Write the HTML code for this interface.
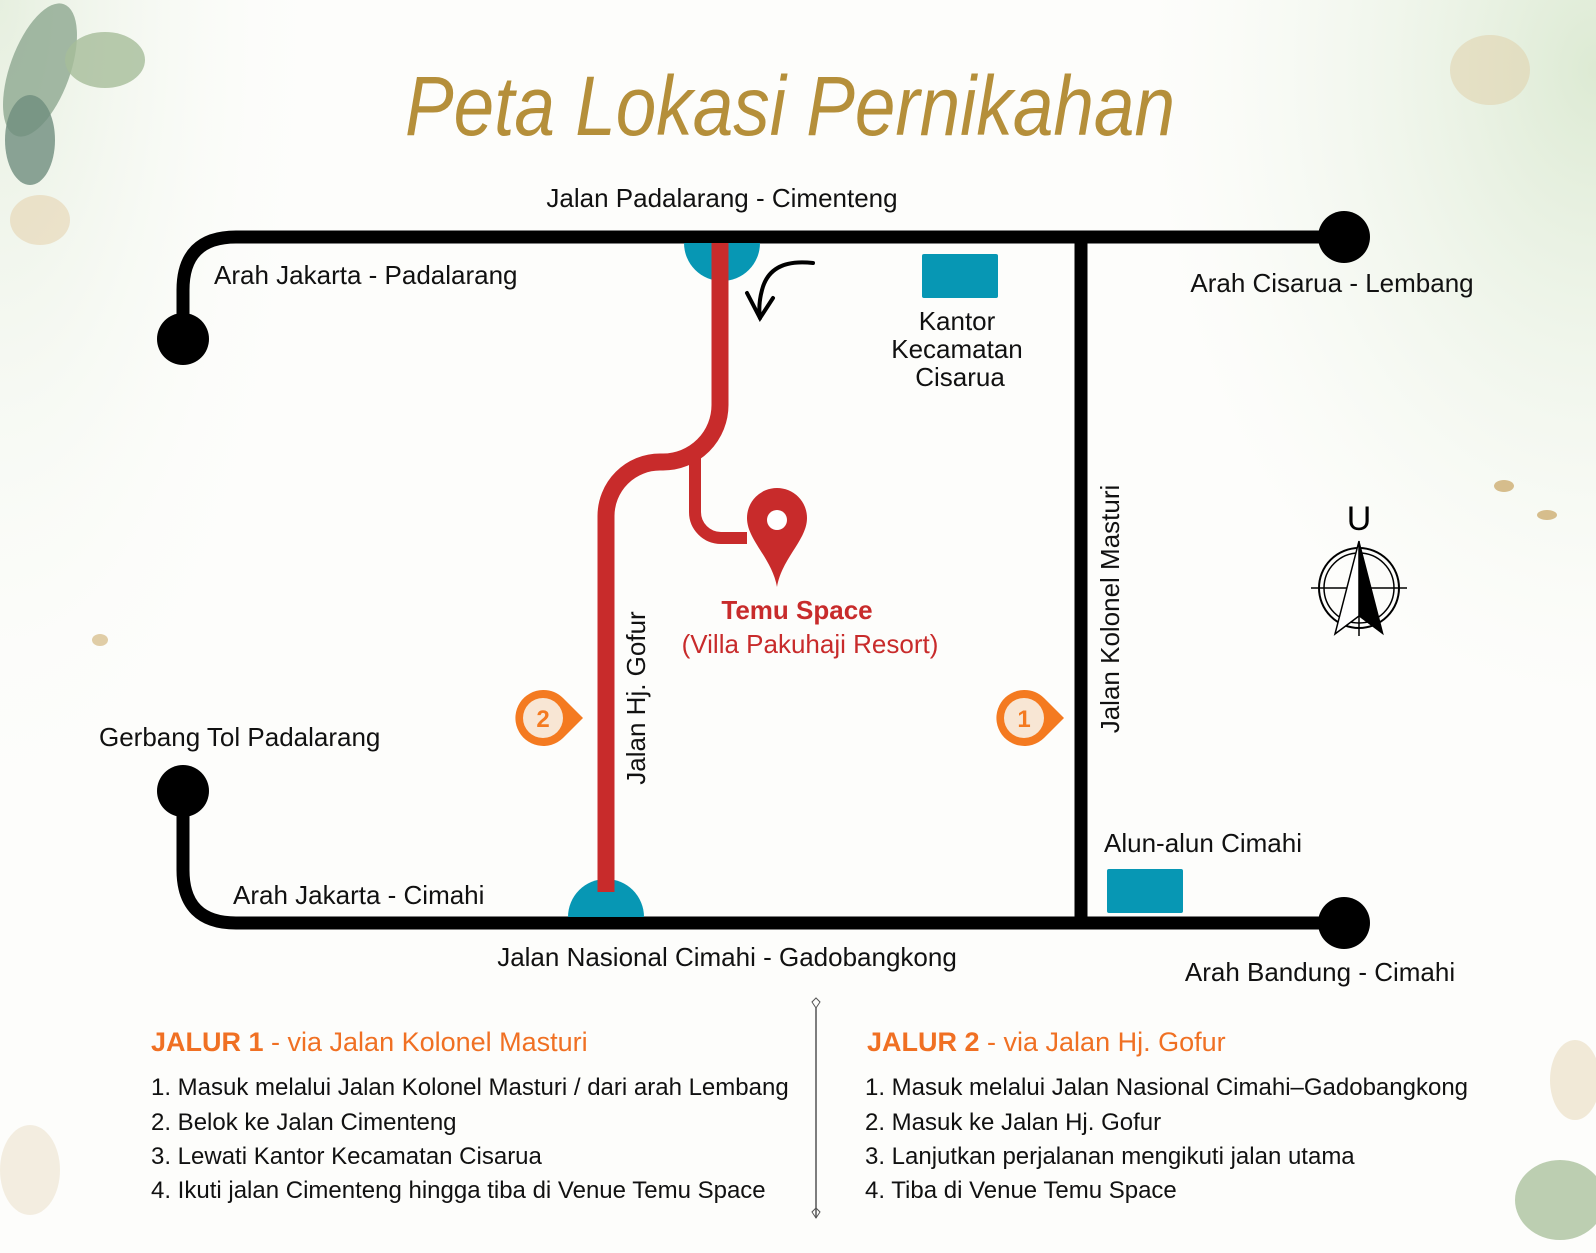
<!DOCTYPE html>
<html><head><meta charset="utf-8"><style>
html,body{margin:0;padding:0;background:#fff;}
svg{display:block;}
text{font-family:"Liberation Sans",sans-serif;}
</style></head><body>
<svg width="1596" height="1253" viewBox="0 0 1596 1253" xmlns="http://www.w3.org/2000/svg">
<defs>
<radialGradient id="gtr" cx="1" cy="0.1" r="0.9"><stop offset="0" stop-color="#d9e8cf" stop-opacity="0.9"/><stop offset="1" stop-color="#eef5ea" stop-opacity="0"/></radialGradient>
<radialGradient id="gtl" cx="0" cy="0" r="1"><stop offset="0" stop-color="#e6efdf"/><stop offset="1" stop-color="#fff" stop-opacity="0"/></radialGradient>
</defs>
<rect width="1596" height="1253" fill="#fdfdfb"/>
<rect x="1100" y="0" width="496" height="700" fill="url(#gtr)"/>
<rect x="0" y="0" width="350" height="900" fill="url(#gtl)"/>
<ellipse cx="40" cy="70" rx="30" ry="70" fill="#8da890" opacity="0.8" transform="rotate(20 40 70)"/>
<ellipse cx="105" cy="60" rx="40" ry="28" fill="#a6bd9a" opacity="0.8"/>
<ellipse cx="30" cy="140" rx="25" ry="45" fill="#6f8d7e" opacity="0.8"/>
<ellipse cx="40" cy="220" rx="30" ry="25" fill="#e6d3b0" opacity="0.6"/>
<ellipse cx="1490" cy="70" rx="40" ry="35" fill="#e0cda6" opacity="0.5"/>
<ellipse cx="1560" cy="1200" rx="45" ry="40" fill="#9fb992" opacity="0.7"/>
<ellipse cx="1575" cy="1080" rx="25" ry="40" fill="#e6d6b4" opacity="0.5"/>
<ellipse cx="30" cy="1170" rx="30" ry="45" fill="#ece3cf" opacity="0.6"/>
<ellipse cx="1504" cy="486" rx="10" ry="6" fill="#d6bd8c"/>
<ellipse cx="1547" cy="515" rx="10" ry="5" fill="#d6bd8c"/>
<ellipse cx="100" cy="640" rx="8" ry="6" fill="#e0cda6"/>
<text x="790" y="135" text-anchor="middle" font-family="Liberation Serif,serif" font-style="italic" font-size="84" fill="#b58f3a" textLength="770" lengthAdjust="spacingAndGlyphs">Peta Lokasi Pernikahan</text>
<g fill="none" stroke="#000" stroke-width="13">
<path d="M183 339 V290 Q183 237 236 237 H1344"/>
<path d="M183 791 V870 Q183 923 236 923 H1344"/>
<path d="M1081 237 V923"/>
</g>
<circle cx="183" cy="339" r="26"/><circle cx="1344" cy="237" r="26"/>
<circle cx="183" cy="791" r="26"/><circle cx="1344" cy="923" r="26"/>
<path d="M684 243 A38 38 0 0 0 760 243 Z" fill="#0797b4"/>
<path d="M568 917 A38 38 0 0 1 644 917 Z" fill="#0797b4"/>
<g fill="none" stroke="#c82b2b">
<path d="M720 243 V405 A57 57 0 0 1 663 462 H660 A54 54 0 0 0 606 516 V892" stroke-width="17"/>
<path d="M695 458 V512 A26 26 0 0 0 721 538 H747" stroke-width="12"/>
</g>
<path d="M777 488 a30 30 0 0 1 30 30 c0 22 -25 40 -30 69 c-5 -29 -30 -47 -30 -69 a30 30 0 0 1 30 -30z" fill="#c82b2b"/>
<circle cx="777" cy="520" r="10" fill="#fff"/>
<path d="M813 263 Q770 258 762 290 Q758 305 760 318" fill="none" stroke="#000" stroke-width="4" stroke-linecap="round"/>
<path d="M747 293 L760 318 L773 298" fill="none" stroke="#000" stroke-width="4" stroke-linecap="round"/>
<rect x="922" y="254" width="76" height="44" rx="2" fill="#0797b4"/>
<rect x="1107" y="869" width="76" height="44" rx="2" fill="#0797b4"/>
<g>
<path d="M543 690 A28 28 0 1 0 563 738 L583 718 L563 698 A28 28 0 0 0 543 690Z" fill="#f47a20"/>
<circle cx="543" cy="718" r="20" fill="#f8e6d4"/>
<text x="543" y="727" text-anchor="middle" font-size="24" fill="#f47a20" font-weight="bold">2</text>
<path d="M1024 690 A28 28 0 1 0 1044 738 L1064 718 L1044 698 A28 28 0 0 0 1024 690Z" fill="#f47a20"/>
<circle cx="1024" cy="718" r="20" fill="#f8e6d4"/>
<text x="1024" y="727" text-anchor="middle" font-size="24" fill="#f47a20" font-weight="bold">1</text>
</g>
<g transform="translate(1359,588)" fill="none" stroke="#000">
<text x="0" y="-58" text-anchor="middle" font-family="Liberation Serif,serif" font-size="34" fill="#000" stroke="none">U</text>
<circle r="40" stroke-width="2"/><circle r="35" stroke-width="1.5"/>
<path d="M-48 0 H48 M0 -45 V48" stroke-width="1.5"/>
<path d="M0 -47 L-24 46 L0 28 Z" fill="#fff" stroke-width="1.5"/>
<path d="M0 -47 L24 46 L0 28 Z" fill="#000" stroke-width="1"/>
</g>
<g font-size="26" fill="#111">
<text x="722" y="207" text-anchor="middle">Jalan Padalarang - Cimenteng</text>
<text x="214" y="284">Arah Jakarta - Padalarang</text>
<text x="1332" y="292" text-anchor="middle">Arah Cisarua - Lembang</text>
<text x="957" y="330" text-anchor="middle">Kantor</text>
<text x="957" y="358" text-anchor="middle">Kecamatan</text>
<text x="960" y="386" text-anchor="middle">Cisarua</text>
<text x="99" y="746">Gerbang Tol Padalarang</text>
<text x="233" y="904">Arah Jakarta - Cimahi</text>
<text x="727" y="966" text-anchor="middle">Jalan Nasional Cimahi - Gadobangkong</text>
<text x="1203" y="852" text-anchor="middle">Alun-alun Cimahi</text>
<text x="1320" y="981" text-anchor="middle">Arah Bandung - Cimahi</text>
<text transform="translate(645,698) rotate(-90)" text-anchor="middle">Jalan Hj. Gofur</text>
<text transform="translate(1119,609) rotate(-90)" text-anchor="middle">Jalan Kolonel Masturi</text>
</g>
<text x="797" y="619" text-anchor="middle" font-size="26" font-weight="bold" fill="#c82b2b">Temu Space</text>
<text x="810" y="653" text-anchor="middle" font-size="26" fill="#c82b2b">(Villa Pakuhaji Resort)</text>
<path d="M816 1008 V1218" stroke="#555" stroke-width="1.5"/>
<path d="M816 1008 l-4 -6 l4 -4 l4 4 z M816 1218 l-4 -6 l4 -4 l4 4z" fill="none" stroke="#555"/>
<g font-size="27" fill="#f07023">
<text x="151" y="1051"><tspan font-weight="bold">JALUR 1</tspan> - via Jalan Kolonel Masturi</text>
<text x="867" y="1051"><tspan font-weight="bold">JALUR 2</tspan> - via Jalan Hj. Gofur</text>
</g>
<g font-size="24" fill="#111">
<text x="151" y="1095">1.  Masuk melalui Jalan Kolonel Masturi / dari arah Lembang</text>
<text x="151" y="1130">2.  Belok ke Jalan Cimenteng</text>
<text x="151" y="1164">3.  Lewati Kantor Kecamatan Cisarua</text>
<text x="151" y="1198">4.  Ikuti jalan Cimenteng hingga tiba di Venue Temu Space</text>
<text x="865" y="1095">1. Masuk melalui Jalan Nasional Cimahi–Gadobangkong</text>
<text x="865" y="1130">2. Masuk ke Jalan Hj. Gofur</text>
<text x="865" y="1164">3. Lanjutkan perjalanan mengikuti jalan utama</text>
<text x="865" y="1198">4. Tiba di Venue Temu Space</text>
</g>
</svg>
</body></html>
